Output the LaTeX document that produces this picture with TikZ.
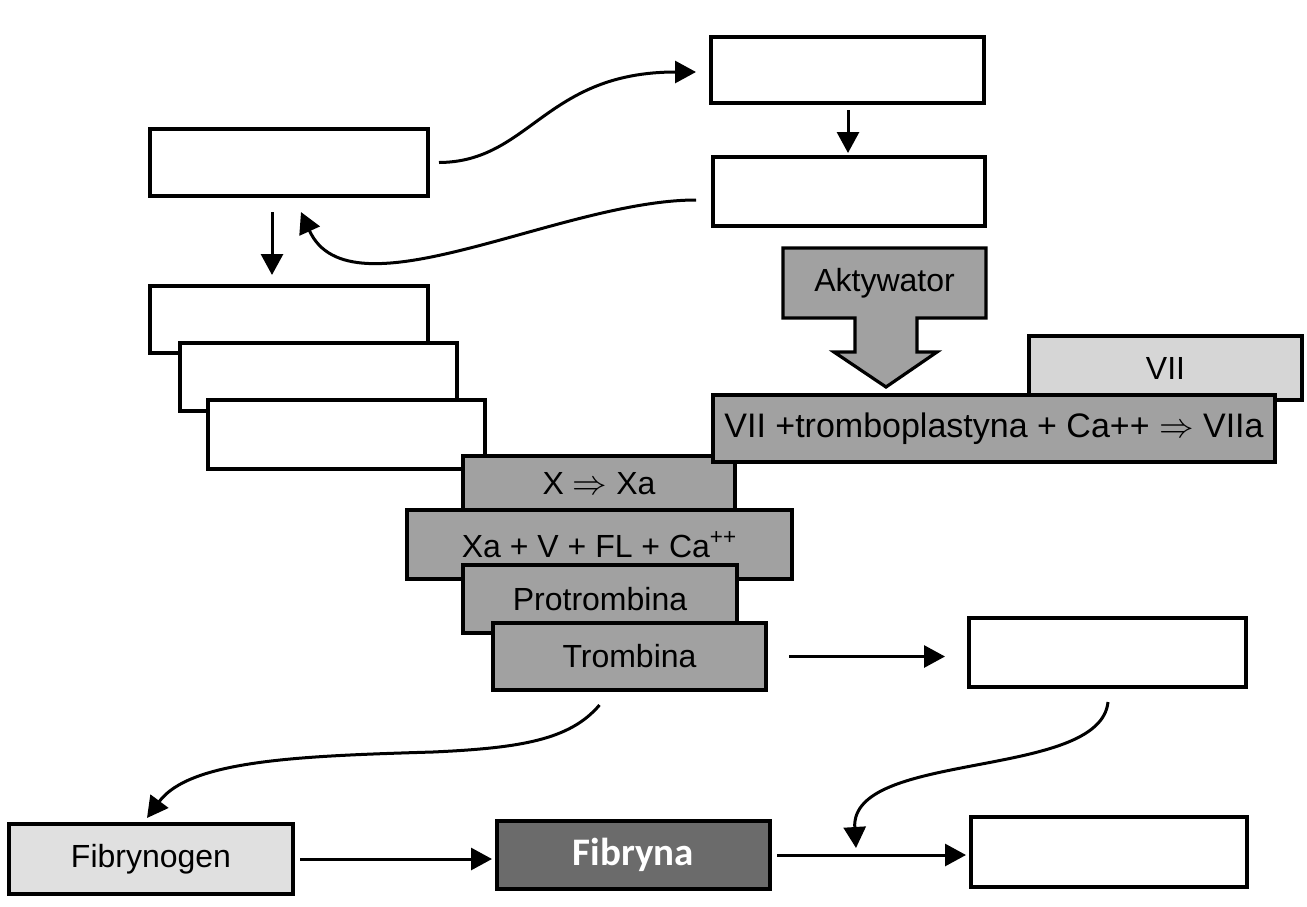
\documentclass[tikz,border=0pt]{standalone}
\usepackage{fontspec}
\setmainfont{Liberation Sans}
\newfontfamily\carlito{Carlito}
\usetikzlibrary{arrows.meta,calc}

\definecolor{midgray}{gray}{0.63}
\definecolor{softgray}{gray}{0.84}
\definecolor{palegray}{gray}{0.88}
\definecolor{deepgray}{gray}{0.42}

\begin{document}
\begin{tikzpicture}[x=0.5pt,y=-0.5pt,
  box/.style={draw=black, line width=1.6pt, fill=white, inner sep=0pt, outer sep=0pt,
    font=\fontsize{16}{19}\selectfont},
  gbox/.style={box, fill=midgray},
  arr/.style={line width=1.5pt, -{Triangle[length=10.5pt,width=11pt]}}]

\useasboundingbox (0,0) rectangle (1307,906);

% empty boxes, upper part
\node[box, minimum width=136.5pt, minimum height=33pt]   (T1) at (847.5,70) {};
\node[box, minimum width=136pt,   minimum height=34.5pt] (T2) at (849,191.5) {};
\node[box, minimum width=139pt,   minimum height=33.5pt] (L1) at (289,162.5) {};

% stacked empty boxes
\node[box, minimum width=139pt,   minimum height=33.5pt] (S1) at (289,319.5) {};
\node[box, minimum width=138.5pt, minimum height=34pt]   (S2) at (318.5,377) {};
\node[box, minimum width=138.5pt, minimum height=34.5pt] (S3) at (346.5,434.5) {};

% factor VII
\node[box, fill=softgray, minimum width=136.5pt, minimum height=32pt] (VII) at (1165.5,368) {VII};

% activator block arrow
\draw[line width=1.6pt, fill=midgray]
  (783,248) -- (986,248) -- (986,318) -- (917,318) -- (917,352) -- (937,352)
  -- (886,387) -- (834,352) -- (855,352) -- (855,318) -- (783,318) -- cycle;
\node[font=\fontsize{16}{19}\selectfont] (akt) at (884.5,283) {Aktywator};

% cascade boxes
\node[gbox, minimum width=136pt, minimum height=28pt] (X) at (599,484) {X $\Rightarrow$ Xa};
\node[gbox, minimum width=281pt, minimum height=33.5pt, font=\fontsize{17}{20}\selectfont] (VIIa) at (994,428.5)
  {VII +tromboplastyna + Ca++ $\Rightarrow$ VIIa};
\node[gbox, minimum width=192.5pt, minimum height=34.5pt] (Xa) at (599.5,544.5)
  {Xa + V + FL + Ca\textsuperscript{++}};
\node[gbox, minimum width=137pt, minimum height=34pt] (Pro) at (600,599) {Protrombina};
\node[gbox, minimum width=136.5pt, minimum height=33.5pt] (Tro) at (629.5,656.5) {Trombina};

% right-hand empty boxes
\node[box, minimum width=138.5pt, minimum height=34.5pt] (R1) at (1107.5,652.5) {};
\node[box, minimum width=138pt,   minimum height=35pt]   (R2) at (1109,852) {};

% fibrinogen and fibrin
\node[box, fill=palegray, minimum width=142pt, minimum height=35pt] (Fg) at (151,859) {Fibrynogen};
\node[box, fill=deepgray, minimum width=136.5pt, minimum height=34pt,
  font=\carlito\bfseries\fontsize{19.5}{22}\selectfont, text=white] (Fb) at (633.5,855) {Fibryna};

\coordinate (join) at (856,848);

% connectors
\draw[arr] ($(L1.east)+(11,0)$) .. controls (530,162) and (545,72) .. ($(T1.west)+(-15,2)$);
\draw[arr] ($(T1.south)+(0.5,7)$) -- ($(T2.north)+(-1,-4)$);
\draw[arr] ($(T2.west)+(-17,8.5)$) .. controls (560,200) and (350,320) .. ($(L1.south)+(12,16)$);
\draw[arr] ($(L1.south)+(-17,16)$) -- ($(S1.north)+(-17,-11)$);
\draw[arr] ($(Tro.east)+(23,0)$) -- ($(R1.west)+(-24,4)$);
\draw[arr] ($(Tro.south)+(-30,15)$) .. controls (570,740) and (520,748) .. (433,752)
  .. controls (300,756) and (190,760) .. ($(Fg.north)+(-4,-6)$);
\draw[arr] ($(R1.south)+(0.5,15)$) .. controls (1100,780) and (850,750) .. (join);
\draw[arr] ($(Fg.east)+(7,0)$) -- ($(Fb.west)+(-5,4)$);
\draw[arr] ($(Fb.east)+(7,0)$) -- ($(R2.west)+(-5,3)$);
\end{tikzpicture}
\end{document}
